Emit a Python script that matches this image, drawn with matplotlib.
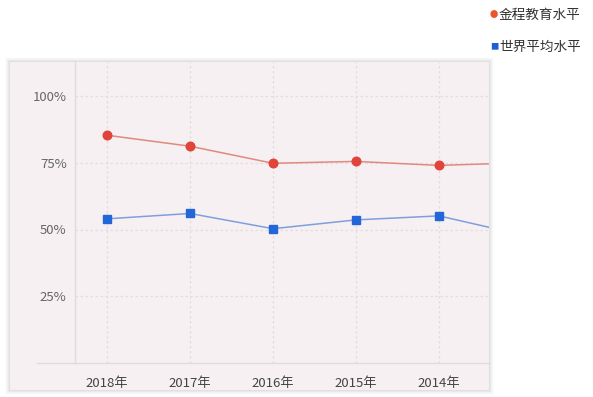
import matplotlib.pyplot as plt
import matplotlib.patches as mpatches

plt.rcParams['font.family'] = ['Noto Sans CJK SC', 'DejaVu Sans']

years = ["2018年", "2017年", "2016年", "2015年", "2014年", "2013年"]
jincheng = [0.853, 0.812, 0.748, 0.755, 0.740, 0.750]
world = [0.540, 0.560, 0.503, 0.536, 0.551, 0.480]
yticks = [0.25, 0.50, 0.75, 1.00]
ytick_labels = ["25%", "50%", "75%", "100%"]

W, H = 593, 397
fig = plt.figure(figsize=(W / 100, H / 100), dpi=100)
fig.patch.set_facecolor("white")

# panel with soft shadow
px0, py0, px1, py1 = 10, 62, 489, 390
for i, a in enumerate([0.012, 0.018, 0.024, 0.03, 0.035]):
    d = 5 - i
    fig.patches.append(mpatches.Rectangle(
        ((px0 - d) / W, 1 - (py1 + d) / H), (px1 - px0 + 2 * d) / W, (py1 - py0 + 2 * d) / H,
        transform=fig.transFigure, facecolor="black", alpha=a, edgecolor="none", zorder=0))
fig.patches.append(mpatches.Rectangle(
    (px0 / W, 1 - py1 / H), (px1 - px0) / W, (py1 - py0) / H,
    transform=fig.transFigure, facecolor="#f6f0f3", edgecolor="none", zorder=1))

# bottom baseline from x=37
fig.add_artist(plt.Line2D([37 / W, px1 / W], [1 - 363 / H, 1 - 363 / H],
                          transform=fig.transFigure, color="#e0dadd", lw=1, zorder=2))

ax = fig.add_axes([75 / W, 1 - 363 / H, (px1 - 75) / W, (363 - py0) / H])
ax.set_zorder(5)
ax.set_facecolor("none")
x = list(range(len(years)))
ax.set_xlim((75 - 107) / 83, (489 - 107) / 83)
ax.set_ylim(0, (363 - 62) / 267)

for yv in yticks:
    ax.axhline(yv, color="#e3dde0", lw=0.9, ls=(0, (2, 2)), zorder=1)
for xv in x[:5]:
    ax.axvline(xv, color="#e3dde0", lw=0.9, ls=(0, (2, 2)), zorder=1)

ax.plot(x, jincheng, color="#e08a7e", lw=1.1, zorder=3)
ax.plot(x, jincheng, "o", color="#e0443a", ms=6.2, zorder=4)
ax.plot(x, world, color="#7f9fdc", lw=1.1, zorder=3)
ax.plot(x, world, "s", color="#2266d8", ms=6.2, zorder=4)

for s in ["top", "right", "bottom"]:
    ax.spines[s].set_visible(False)
ax.spines["left"].set_color("#e0dadd")
ax.spines["left"].set_linewidth(1)

ax.set_yticks(yticks)
ax.set_yticklabels(ytick_labels, fontsize=9.5, color="#666666")
ax.set_xticks(x[:5])
ax.set_xticklabels(years[:5], fontsize=9.5, color="#444444")
ax.tick_params(axis="y", length=0, pad=6)
ax.tick_params(axis="x", length=0, pad=10)

# legend at top right
fig.text(490 / W, 1 - 15 / H, "●", color="#e8572d", fontsize=6, va="center", ha="left")
fig.text(499 / W, 1 - 15 / H, "金程教育水平", color="#333333", fontsize=9.8, va="center", ha="left")
fig.text(490 / W, 1 - 47 / H, "■", color="#1a5fd6", fontsize=6, va="center", ha="left")
fig.text(499 / W, 1 - 47 / H, "世界平均水平", color="#333333", fontsize=9.8, va="center", ha="left")

fig.savefig("out.png", dpi=100)
